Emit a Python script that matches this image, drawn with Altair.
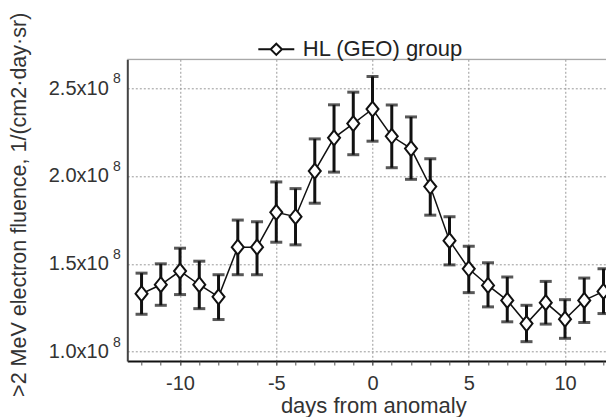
import altair as alt
import pandas as pd

# ---- data (fluence in units of 1e8) ----
days = list(range(-12, 13))
fluence = [1.330, 1.381, 1.459, 1.381, 1.312, 1.595, 1.595, 1.793, 1.768, 2.028,
           2.217, 2.298, 2.381, 2.226, 2.156, 1.940, 1.632, 1.472, 1.377, 1.292,
           1.160, 1.279, 1.185, 1.292, 1.343]
upper = [1.447, 1.500, 1.589, 1.515, 1.438, 1.749, 1.739, 1.966, 1.928, 2.211,
         2.405, 2.477, 2.566, 2.404, 2.336, 2.098, 1.768, 1.600, 1.506, 1.425,
         1.264, 1.400, 1.296, 1.419, 1.472]
lower = [1.213, 1.264, 1.325, 1.245, 1.183, 1.438, 1.438, 1.623, 1.608, 1.845,
         2.022, 2.121, 2.198, 2.047, 1.981, 1.777, 1.494, 1.336, 1.255, 1.170,
         1.057, 1.157, 1.076, 1.166, 1.217]
series_name = "HL (GEO) group"
x_major = [-10, -5, 0, 5, 10]
x_minor = list(range(-12, 13))
y_ticks = [1.0e8, 1.5e8, 2.0e8, 2.5e8]
y_exponent = ["8", "8", "8", "8"]

df = pd.DataFrame({
    "day": days,
    "fluence": [v * 1e8 for v in fluence],
    "upper": [v * 1e8 for v in upper],
    "lower": [v * 1e8 for v in lower],
    "series": [series_name] * len(days),
})
df_ticks = pd.DataFrame({"tick": y_ticks, "exp": y_exponent})

PAD_L = 119.3
W = 478.7          # PAD_L + W = 598 (page body width)
H = 301.7
FONT = "Liberation Sans"
INK = "#111"

x_scale = alt.Scale(domain=[-12.74, 12.13], nice=False, zero=False)
y_scale = alt.Scale(domain=[0.947e8, 2.664e8], nice=False, zero=False)

x_axis = alt.Axis(
    values=x_major, orient="bottom",
    labelExpr="'' + datum.value",
    title="days from anomaly",
    grid=True, gridDash=[2, 2], gridColor="#999", gridWidth=1,
    domainColor=INK, domainWidth=2,
    tickColor="#555", tickSize=4, tickWidth=1,
    labelFontSize=20, labelColor="#333", labelPadding=8, labelFont=FONT,
    labelFlush=False, labelOverlap=False,
    titleFontSize=22, titleColor="#333", titleFontWeight="normal", titleFont=FONT,
    titleX=246, titleY=51, titleBaseline="alphabetic", titleAlign="center",
)
x_axis_minor = alt.Axis(
    values=x_minor, orient="bottom", labels=False, grid=False, domain=False,
    tickColor="#555", tickSize=4, tickWidth=1, title=None,
)
y_axis = alt.Axis(
    values=y_ticks,
    labelExpr="format(datum.value / 1e8, '.1f') + 'x10'",
    ticks=False, labelPadding=19,
    labelFontSize=20, labelColor="#333", labelFont=FONT,
    grid=True, gridDash=[2, 2], gridColor="#999", gridWidth=1,
    domainColor="#444", domainWidth=2,
    title=">2 MeV electron fluence, 1/(cm2\u00b7day\u00b7sr)",
    titleFontSize=21.5, titleColor="#333", titleFontWeight="normal", titleFont=FONT,
    titleX=-108, titleY=145, titleAngle=270, titleAlign="center", titleBaseline="middle",
)

base = alt.Chart(df)

err = base.mark_rule(strokeWidth=3, color=INK).encode(
    x=alt.X("day:Q", scale=x_scale, axis=x_axis),
    y=alt.Y("lower:Q", scale=y_scale, axis=y_axis), y2="upper:Q")
cap_top = base.mark_tick(orient="horizontal", size=12, thickness=3, color=INK).encode(
    x=alt.X("day:Q", axis=None), y="upper:Q")
cap_bot = base.mark_tick(orient="horizontal", size=12, thickness=3, color=INK).encode(
    x=alt.X("day:Q", axis=None), y="lower:Q")
line = base.mark_line(strokeWidth=1.5, color=INK).encode(
    x=alt.X("day:Q", axis=x_axis_minor), y="fluence:Q")

diamond = "M0,-1L0.8,0L0,1L-0.8,0Z"
legend_sym = "M-1.6,0L-0.5,0M0.5,0L1.6,0M0,-0.5L0.5,0L0,0.5L-0.5,0Z"
points = base.mark_point(shape=diamond, size=225, filled=True, fill="white",
                         strokeWidth=2, opacity=1).encode(
    x=alt.X("day:Q", axis=None), y="fluence:Q",
    stroke=alt.Stroke("series:N", scale=alt.Scale(range=[INK]),
                      legend=alt.Legend(
                          title=None, orient="none", legendX=136.5, legendY=-22.5,
                          symbolType=legend_sym, symbolSize=506,
                          symbolFillColor="white", symbolStrokeColor=INK,
                          symbolStrokeWidth=2, labelFont=FONT, labelFontSize=22,
                          labelColor="#222", labelOffset=14, padding=0,
                          labelLimit=400)),
)

sup = alt.Chart(df_ticks).mark_text(font=FONT, fontSize=14, color="#333",
                                    align="center", baseline="middle", dy=-9).encode(
    x=alt.value(-10.3), y=alt.Y("tick:Q"), text="exp:N")

top_border = alt.Chart(pd.DataFrame({"k": [0]})).mark_rule(color="#999", strokeWidth=1).encode(
    y=alt.value(0), x=alt.value(0), x2=alt.value(W))

chart = alt.layer(err, cap_top, cap_bot, line, points, sup, top_border).resolve_axis(
    x="independent"
).properties(
    width=W, height=H,
    autosize=alt.AutoSizeParams(type="none"),
    padding={"left": PAD_L, "top": 51.3, "right": 0, "bottom": 56},
).configure_view(stroke=None).configure(font=FONT, background="white")

chart.save("out.html", embed_options={"renderer": "svg", "actions": False})
